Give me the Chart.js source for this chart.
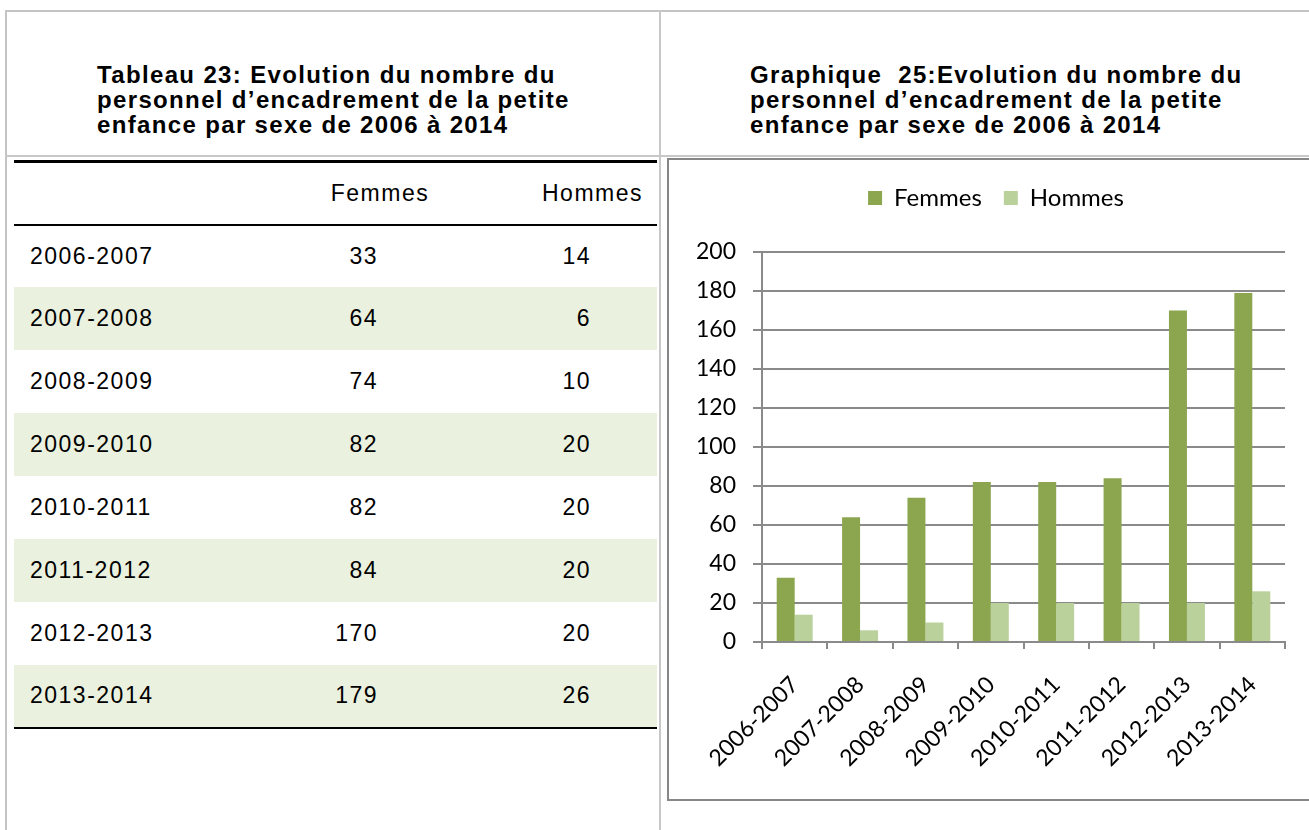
<!DOCTYPE html>
<html lang="fr">
<head>
<meta charset="utf-8">
<title>Personnel d'encadrement de la petite enfance</title>
<script src="https://cdn.jsdelivr.net/npm/chart.js@4.4.1/dist/chart.umd.min.js"></script>
<style>
  html, body { margin: 0; padding: 0; background: #fff; }
  body { width: 1309px; height: 830px; overflow: hidden; position: relative; font-family: "Liberation Sans", Arial, sans-serif; color: #000; }
  .cadre { position: absolute; left: 5px; top: 10px; width: 1400px; height: 900px; border-top: 2px solid #c4c4c4; border-left: 2px solid #c4c4c4; }
  .sep-v { position: absolute; left: 659px; top: 10px; width: 2px; height: 900px; background: #c8c8c8; }
  .sep-h { position: absolute; left: 5px; top: 155px; width: 1400px; height: 2px; background: #c8c8c8; }
  .titre { position: absolute; top: 62px; font-weight: bold; font-size: 24px; line-height: 25px; letter-spacing: 1.35px; white-space: nowrap; }
  #titreTableau { left: 97px; }
  #titreGraphique { left: 750px; }
  table { position: absolute; left: 14px; top: 160px; width: 643px; table-layout: fixed; border-collapse: collapse; font-size: 23px; letter-spacing: 1.5px; }
  th, td { box-sizing: border-box; padding: 0; }
  th { font-weight: normal; height: 63px; border-top: 3px solid #000; border-bottom: 2px solid #000; }
  td { height: 62.9px; }
  tr.bande td { background: #eaf1de; }
  tr:last-child td { border-bottom: 2px solid #000; }
  .c1 { text-align: left; padding-left: 16px; }
  th.c2 { text-align: center; }
  td.c2 { text-align: right; padding-right: 82px; }
  th.c3 { text-align: right; padding-right: 14px; }
  td.c3 { text-align: right; padding-right: 66px; }
  .boite { position: absolute; left: 667px; top: 158px; width: 700px; height: 643px; box-sizing: border-box; border: 2px solid #878787; }
  #graphique { position: absolute; left: 669px; top: 160px; }
</style>
</head>
<body>
<div class="cadre"></div>
<div class="sep-v"></div>
<div class="sep-h"></div>

<div class="titre" id="titreTableau">Tableau 23: Evolution du nombre du<br>personnel d’encadrement de la petite<br>enfance par sexe de 2006 à 2014</div>
<div class="titre" id="titreGraphique">Graphique&nbsp; 25:Evolution du nombre du<br>personnel d’encadrement de la petite<br>enfance par sexe de 2006 à 2014</div>

<table id="tableau">
  <colgroup><col style="width:286px"><col style="width:160px"><col style="width:197px"></colgroup>
  <thead><tr><th class="c1"></th><th class="c2">Femmes</th><th class="c3">Hommes</th></tr></thead>
  <tbody></tbody>
</table>

<div class="boite"></div>
<canvas id="graphique" width="640" height="638"></canvas>

<script>
const annees = ['2006-2007', '2007-2008', '2008-2009', '2009-2010', '2010-2011', '2011-2012', '2012-2013', '2013-2014'];
const femmes = [33, 64, 74, 82, 82, 84, 170, 179];
const hommes = [14, 6, 10, 20, 20, 20, 20, 26];
const series = ['Femmes', 'Hommes'];

const vertFonce = '#8ba64f';
const vertClair = '#bad19b';
const gris = '#8a8a8a';

// Remplir le tableau à partir des tableaux de données
const corps = document.querySelector('#tableau tbody');
annees.forEach((annee, i) => {
  const tr = document.createElement('tr');
  if (i % 2 === 1) tr.className = 'bande';
  tr.innerHTML = `<td class="c1">${annee}</td><td class="c2">${femmes[i]}</td><td class="c3">${hommes[i]}</td>`;
  corps.appendChild(tr);
});

// Légende : plus d'espace dessous, et un léger décalage vers la droite
const reglageLegende = {
  id: 'reglageLegende',
  beforeInit(chart) {
    const fitOrig = chart.legend.fit;
    chart.legend.fit = function () {
      fitOrig.bind(chart.legend)();
      this.height += 32;
    };
  },
  afterLayout(chart) {
    chart.legend.left += 19;
    chart.legend.right += 19;
  }
};

const police = 'Lato, "Open Sans", sans-serif';

new Chart(document.getElementById('graphique').getContext('2d'), {
  type: 'bar',
  data: {
    labels: annees,
    datasets: [
      { label: series[0], data: femmes, backgroundColor: vertFonce },
      { label: series[1], data: hommes, backgroundColor: vertClair }
    ]
  },
  options: {
    responsive: false,
    animation: false,
    layout: { padding: { left: 0, right: 24, top: 4, bottom: 0 } },
    datasets: { bar: { categoryPercentage: 0.55, barPercentage: 1 } },
    plugins: {
      tooltip: { enabled: false },
      legend: {
        position: 'top',
        labels: {
          boxWidth: 14,
          boxHeight: 14,
          padding: 22,
          color: '#000',
          font: { family: police, size: 24 }
        }
      }
    },
    scales: {
      x: {
        afterFit: s => { s.height = 156; },
        grid: { offset: true, drawOnChartArea: false, tickLength: 7, color: gris, lineWidth: 2 },
        border: { color: gris, width: 2 },
        ticks: {
          autoSkip: false,
          minRotation: 45,
          maxRotation: 45,
          padding: 22,
          color: '#000',
          font: { family: police, size: 23 }
        }
      },
      y: {
        min: 0,
        max: 200,
        afterFit: s => { s.width = 93; },
        grid: { tickLength: 9, color: gris, lineWidth: 2 },
        border: { color: gris, width: 2 },
        ticks: {
          stepSize: 20,
          padding: 17,
          color: '#000',
          font: { family: police, size: 23 }
        }
      }
    }
  },
  plugins: [reglageLegende]
});
</script>
</body>
</html>
